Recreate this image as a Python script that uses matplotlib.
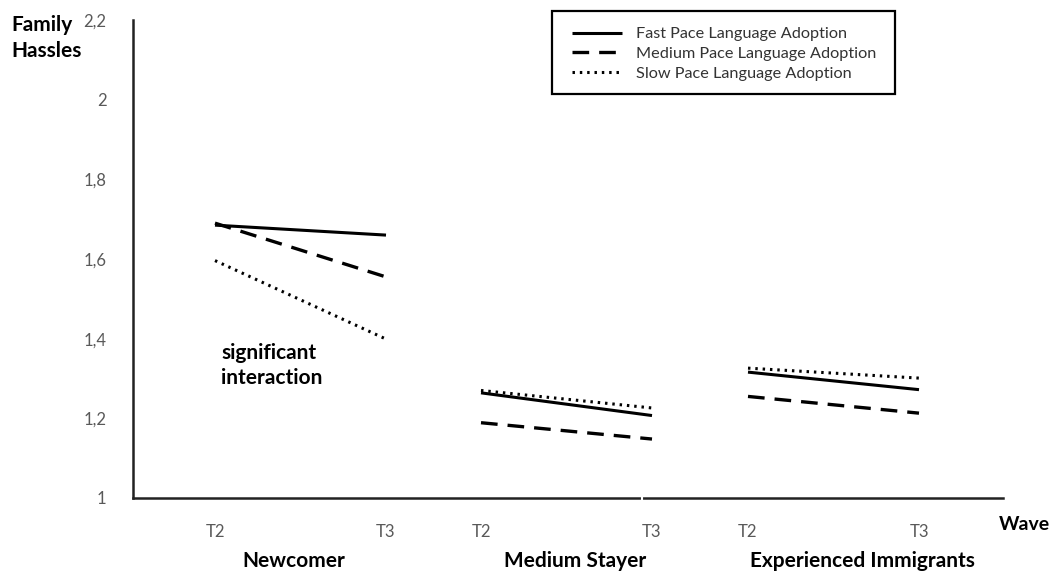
import matplotlib
matplotlib.use("Agg")
import matplotlib.pyplot as plt
from matplotlib.patches import Rectangle

# ---- data ----
groups = ["Newcomer", "Medium Stayer", "Experienced Immigrants"]
waves = ["T2", "T3"]
series_names = ["Fast Pace Language Adoption", "Medium Pace Language Adoption", "Slow Pace Language Adoption"]
fast = [[1.685, 1.660], [1.264, 1.207], [1.316, 1.272]]
medium = [[1.690, 1.555], [1.189, 1.148], [1.255, 1.213]]
slow = [[1.596, 1.399], [1.270, 1.226], [1.326, 1.301]]
y_ticks = [1.0, 1.2, 1.4, 1.6, 1.8, 2.0, 2.2]
y_tick_labels = ["1", "1,2", "1,4", "1,6", "1,8", "2", "2,2"]

# ---- layout (pixel-like x coordinates) ----
group_x = [(215, 386), (481, 652), (748, 919)]
group_label_x = [294, 575, 862]
X0, X1 = 133, 1003
W, H = 1052, 571

plt.rcParams['font.family'] = ['Lato', 'DejaVu Sans']

fig = plt.figure(figsize=(10.52, 5.71), dpi=100)
ax = fig.add_axes([X0 / W, 73 / H, (X1 - X0) / W, (498 - 20) / H])
ax.set_xlim(X0, X1)
ax.set_ylim(1.0, 2.2)

styles = [dict(linestyle='-', linewidth=2.2),
          dict(linestyle=(0, (5, 3)), linewidth=2.4),
          dict(linestyle=(0, (0.8, 1.6)), linewidth=2.2)]
for vals, name, st in zip([fast, medium, slow], series_names, styles):
    for gi, (xs, v) in enumerate(zip(group_x, vals)):
        ax.plot(list(xs), v, color='black', label=name if gi == 0 else None,
                solid_capstyle='butt', dash_capstyle='butt', **st)

for s in ['top', 'right']:
    ax.spines[s].set_visible(False)
for s in ['left', 'bottom']:
    ax.spines[s].set_linewidth(1.8)
    ax.spines[s].set_color('#222222')

ax.set_yticks(y_ticks)
ax.set_yticklabels(y_tick_labels, color='#595959', fontsize=12)
ax.tick_params(axis='y', length=0, pad=19)

xt = [x for pair in group_x for x in pair]
ax.set_xticks(xt)
ax.set_xticklabels(waves * len(groups), color='#595959', fontsize=12)
ax.tick_params(axis='x', length=0, pad=19)

# small break in axis
ax.plot([642, 642], [0.997, 1.004], color='white', lw=1.5, clip_on=False, zorder=5)

for gx, g in zip(group_label_x, groups):
    fig.text(gx / W, 1 - 561 / H, g, ha='center', va='center', fontsize=15, fontweight='bold')

fig.text(1024 / W, 1 - 524 / H, "Wave", ha='center', va='center', fontsize=14, fontweight='bold')
fig.text(11 / W, 1 - 38 / H, "Family\nHassles", ha='left', va='center', fontsize=15,
         fontweight='bold', linespacing=1.35)
ax.text(221, 1.333, "significant\ninteraction", ha='left', va='center', fontsize=15,
        fontweight='bold', linespacing=1.35)

leg = fig.legend(loc='upper left', bbox_to_anchor=(572 / W, 1 - 27 / H),
                 frameon=False, fontsize=11.7,
                 handlelength=3.1, borderpad=0, labelspacing=0.33, handletextpad=0.85,
                 borderaxespad=0)
for t in leg.get_texts():
    t.set_color('#333333')
fig.patches.append(Rectangle((552 / W, 1 - 94 / H), (895 - 552) / W, (94 - 11) / H,
                             transform=fig.transFigure, fill=False, edgecolor='black',
                             linewidth=1.6, figure=fig))

fig.savefig("out.png", dpi=100)
